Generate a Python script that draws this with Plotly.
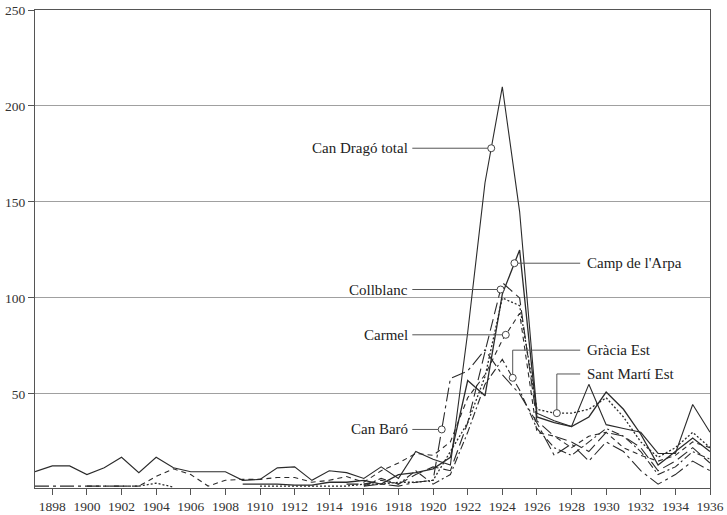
import numpy as np
import plotly.graph_objects as go

years = list(range(1897, 1937))
N = None

can_drago = [9.5, 12.5, 12.5, 8, 11.5, 17, 9, 17, 11.5, 9.5,
             9.5, 9.5, 5, 5.5, 11.5, 12, 5, 10, 9, 6,
             12, 6, 20, 16, 13, 82, 160, 210, 145, 40,
             36, 33, 55, 34, 32, 30, 19, 19, 44.5, 30]
camp_arpa = [N, N, N, N, N, N, N, N, N, N,
             N, N, 3, 3, 3, 2.5, 2.5, 4, 4, 5,
             3, 8, 9, 11, 17, 57, 49, 102, 125, 38,
             35, 33, 38, 51, 42, 29, 13, 20, 27, 20]
collblanc = [N, N, N, N, N, N, N, N, N, N,
             N, N, N, N, N, N, N, N, 3, 3,
             5, 3, 8, 12, 10, 35, 72, 108, 100, 36,
             28, 25, 20, 30, 28, 22, 10, 15, 22, 14]
carmel = [N, N, N, 2, 2, 2, 2, 7, 11, 8,
          2, 5, 5.5, 5.5, 6.5, 6.5, 4, 5, 7, 4,
          10, 14, 19, 18, 25, 48, 60, 78, 92, 30,
          28, 22, 28, 30, 22, 18, 15, 18, 25, 22]
gracia_est = [N, N, N, N, N, N, N, N, N, N,
              N, N, N, N, N, N, N, N, N, 2,
              6, 3, 10, 3, 8, 30, 55, 68, 52, 32,
              22, 18, 25, 32, 28, 20, 8, 12, 20, 16]
sant_marti = [N, N, N, N, N, N, 2, 3.5, 1.5, N,
              N, N, N, 2, 2, 2, 2, 2, 2, 3,
              3, 4, 4, 5, 20, 35, 59, 100, 96, 42,
              40, 40, 42, 48, 38, 25, 17, 22, 30, 22]
can_baro = [2, 2, 2, 2, 2, 2, 2, N, N, N,
            N, N, N, N, N, N, N, N, N, 2,
            3, 2, 4, 5, 58, 62, 73, 60, 50, 35,
            18, 24, 15, 25, 20, 10, 3, 8, 15, 10]

names = ["Can Dragó total", "Camp de l'Arpa", "Collblanc", "Carmel",
         "Gràcia Est", "Sant Martí Est", "Can Baró"]
series = [can_drago, camp_arpa, collblanc, carmel, gracia_est, sant_marti, can_baro]
dashes = ["solid", "solid", "12px,5px", "5px,4px", "8px,3px,2px,3px", "2px,2px", "14px,4px,3px,4px"]
widths = [1.1, 1.3, 1.1, 1.1, 1.1, 1.3, 1.1]

# where each label's circle sits on its line (year), and label side
label_years = [1923.36, 1924.7, 1923.9, 1924.2, 1924.6, 1927.15, 1920.5]
label_side = ["left", "right", "left", "left", "right", "right", "left"]
label_y_override = [None, None, None, None, 72.8, 60.4, None]

ink = "#2b2b2b"
fig = go.Figure()

for name, vals, d, w in zip(names, series, dashes, widths):
    fig.add_trace(go.Scatter(x=years, y=vals, mode="lines", name=name,
                             line=dict(color=ink, width=w, dash=d),
                             connectgaps=False, showlegend=False, hoverinfo="skip"))

left_text_x = 1918.8
right_text_x = 1928.5
for name, vals, ly, side, yo in zip(names, series, label_years, label_side, label_y_override):
    xs = np.array([y for y, v in zip(years, vals) if v is not None], float)
    vs = np.array([v for v in vals if v is not None], float)
    cy = float(np.interp(ly, xs, vs))
    if side == "left":
        lx = [left_text_x, ly]
        lyy = [cy, cy]
        tx, anchor, ty = left_text_x - 0.15, "right", cy
    else:
        if yo is None:
            lx = [ly, right_text_x]
            lyy = [cy, cy]
            ty = cy
        else:
            lx = [right_text_x, ly, ly]
            lyy = [yo, yo, cy]
            ty = yo
        tx, anchor = right_text_x + 0.3, "left"
    fig.add_trace(go.Scatter(x=lx, y=lyy, mode="lines", line=dict(color="#555", width=1),
                             showlegend=False, hoverinfo="skip"))
    fig.add_trace(go.Scatter(x=[ly], y=[cy], mode="markers",
                             marker=dict(symbol="circle", size=7, color="white",
                                         line=dict(color="#444", width=1)),
                             showlegend=False, hoverinfo="skip"))
    fig.add_annotation(x=tx, y=ty, text=name, showarrow=False, xanchor=anchor,
                       yanchor="middle", font=dict(family="Liberation Serif", size=15, color="#222"))

fig.update_layout(
    width=727, height=515,
    margin=dict(l=35, r=17, t=10, b=27),
    paper_bgcolor="white", plot_bgcolor="white",
    font=dict(family="Liberation Serif", size=13, color="#333"),
    hovermode=False,
)
fig.update_xaxes(range=[1897, 1936], tickvals=list(range(1898, 1937, 2)),
                 ticks="outside", ticklen=6, tickcolor="#555",
                 showline=True, linecolor="#555", linewidth=1, mirror=True,
                 showgrid=False, zeroline=False, automargin=False,
                 tickfont=dict(family="Liberation Serif", size=13.5, color="#333"))
fig.update_yaxes(range=[1, 250], tickvals=[50, 100, 150, 200, 250],
                 ticks="outside", ticklen=6, tickcolor="#555",
                 showline=True, linecolor="#555", linewidth=1, mirror=True,
                 showgrid=True, gridcolor="#a0a0a0", gridwidth=1, zeroline=False,
                 automargin=False,
                 tickfont=dict(family="Liberation Serif", size=13.5, color="#333"))

fig.write_html("out.html", config={"displayModeBar": False},
               post_script="document.body.style.margin='0';document.body.style.overflow='hidden';")
